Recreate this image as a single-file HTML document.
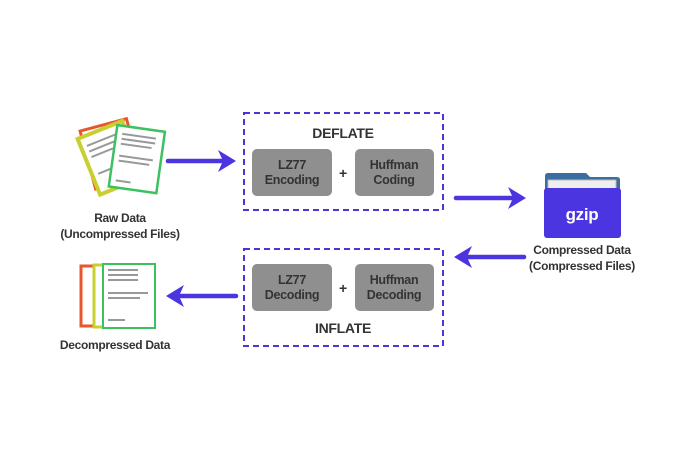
<!DOCTYPE html>
<html><head><style>
body{margin:0;background:#fff}
svg text{font-family:"Liberation Sans",sans-serif;font-weight:bold;letter-spacing:-0.3px}
</style></head><body>
<svg width="696" height="464" viewBox="0 0 696 464" xmlns="http://www.w3.org/2000/svg">
<rect x="244" y="113" width="199" height="97" fill="none" stroke="#4b35d6" stroke-width="2" stroke-dasharray="6,4"/>
<rect x="244" y="249" width="199" height="97" fill="none" stroke="#4b35d6" stroke-width="2" stroke-dasharray="6,4"/>
<text x="343" y="138" font-size="14" text-anchor="middle" fill="#333">DEFLATE</text>
<text x="343" y="333" font-size="14" text-anchor="middle" fill="#333">INFLATE</text>
<g fill="#8f8f8f">
<rect x="252" y="149" width="80" height="47" rx="5"/>
<rect x="355" y="149" width="79" height="47" rx="5"/>
<rect x="252" y="264" width="80" height="47" rx="5"/>
<rect x="355" y="264" width="79" height="47" rx="5"/>
</g>
<g font-size="12.5" fill="#333" text-anchor="middle">
<text x="292" y="169">LZ77</text><text x="292" y="184">Encoding</text>
<text x="394" y="169">Huffman</text><text x="394" y="184">Coding</text>
<text x="292" y="284">LZ77</text><text x="292" y="299">Decoding</text>
<text x="394" y="284">Huffman</text><text x="394" y="299">Decoding</text>
<text x="343" y="178" font-size="14">+</text><text x="343" y="293" font-size="14">+</text>
</g>
<g stroke="#4b35e0" stroke-width="4.5" stroke-linecap="round" fill="none">
<line x1="168" y1="161" x2="225" y2="161"/>
<line x1="456" y1="198" x2="514" y2="198"/>
<line x1="524" y1="257" x2="466" y2="257"/>
<line x1="236" y1="296" x2="178" y2="296"/>
</g>
<g fill="#4b35e0">
<path d="M236,161 L218,150 L223,161 L218,172z"/>
<path d="M526,198 L508,187 L513,198 L508,209z"/>
<path d="M454,257 L472,246 L467,257 L472,268z"/>
<path d="M166,296 L184,285 L179,296 L184,307z"/>
</g>
<!-- raw docs -->
<g transform="rotate(-15 110 150)"><rect x="86" y="124" width="48" height="60" fill="#fff" stroke="#e9562d" stroke-width="3"/></g>
<g transform="rotate(-22 110 155)"><rect x="86" y="128" width="48" height="60" fill="#fff" stroke="#c8cf2f" stroke-width="4"/>
<g stroke="#999" stroke-width="2"><line x1="92" y1="138" x2="124" y2="138"/><line x1="92" y1="144" x2="124" y2="144"/><line x1="92" y1="150" x2="120" y2="150"/><line x1="92" y1="168" x2="124" y2="168"/></g></g>
<g transform="rotate(8 136 158)"><rect x="113" y="128" width="48" height="62" fill="#fff" stroke="#3cc161" stroke-width="2.5"/>
<g stroke="#999" stroke-width="2"><line x1="119" y1="136" x2="153" y2="136"/><line x1="119" y1="141" x2="153" y2="141"/><line x1="119" y1="146" x2="150" y2="146"/><line x1="119" y1="158" x2="153" y2="158"/><line x1="119" y1="163" x2="150" y2="163"/><line x1="119" y1="183" x2="134" y2="183"/></g></g>
<text x="120" y="222" font-size="12" text-anchor="middle" fill="#333">Raw Data</text>
<text x="120" y="238" font-size="12" text-anchor="middle" fill="#333">(Uncompressed Files)</text>
<!-- decompressed docs -->
<rect x="81" y="266" width="25" height="60" fill="#fff" stroke="#e9562d" stroke-width="3"/>
<rect x="94" y="265" width="25" height="62" fill="#fff" stroke="#c8cf2f" stroke-width="3"/>
<rect x="103" y="264" width="52" height="64" fill="#fff" stroke="#3cc161" stroke-width="2"/>
<g stroke="#999" stroke-width="2"><line x1="108" y1="270" x2="138" y2="270"/><line x1="108" y1="275" x2="138" y2="275"/><line x1="108" y1="280" x2="138" y2="280"/><line x1="108" y1="293" x2="148" y2="293"/><line x1="108" y1="298" x2="140" y2="298"/><line x1="108" y1="320" x2="125" y2="320"/></g>
<text x="115" y="349" font-size="12" text-anchor="middle" fill="#333">Decompressed Data</text>
<!-- folder -->
<path d="M545,176 q0,-3 3,-3 h38 l4,4 h27 q3,0 3,3 v10 h-75z" fill="#3a6ea0"/>
<rect x="548" y="180" width="68" height="12" fill="#eee" stroke="#bbb" stroke-width="1"/>
<rect x="544" y="188" width="77" height="50" rx="3" fill="#4b35e0"/>
<text x="582" y="220" font-size="17" text-anchor="middle" fill="#fff">gzip</text>
<text x="582" y="254" font-size="12" text-anchor="middle" fill="#333">Compressed Data</text>
<text x="582" y="270" font-size="12" text-anchor="middle" fill="#333">(Compressed Files)</text>
</svg>
</body></html>
